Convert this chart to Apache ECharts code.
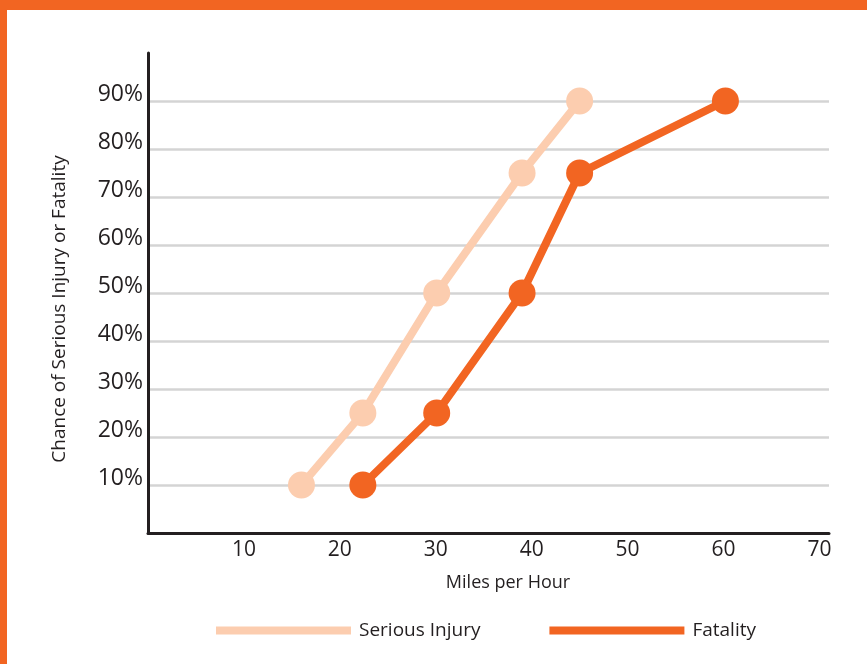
<!DOCTYPE html>
<html>
<head>
<meta charset="utf-8">
<script src="https://cdn.jsdelivr.net/npm/echarts@6/dist/echarts.min.js"></script>
<style>html,body{margin:0;padding:0;background:#fff;}#c{width:867px;height:664px;}</style>
</head>
<body>
<div id="c"></div>
<script>
const seriesNames = ['Serious Injury', 'Fatality'];
const injuryMph = [16, 22.4, 30.1, 39, 45];
const injuryPct = [10, 25, 50, 75, 90];
const fatalityMph = [22.4, 30.1, 39, 45, 60.2];
const fatalityPct = [10, 25, 50, 75, 90];
const xTitle = 'Miles per Hour';
const yTitle = 'Chance of Serious Injury or Fatality';

const FONT = '"Open Sans", "Noto Sans", sans-serif';
const LIGHT = '#FCCDAF';
const DARK = '#F26522';
const chart = echarts.init(document.getElementById('c'), null, {renderer: 'canvas'});

function pairs(xs, ys) { return xs.map((x, i) => [x, ys[i]]); }

chart.setOption({
  animation: false,
  backgroundColor: '#ffffff',
  grid: {left: 148, right: 38, top: 53, bottom: 131, containLabel: false},
  xAxis: {
    type: 'value', min: 0, max: 71, interval: 10,
    axisLine: {show: true, onZero: false, lineStyle: {color: '#231F20', width: 3}},
    axisTick: {show: false},
    splitLine: {show: false},
    axisLabel: {showMinLabel: false, showMaxLabel: false, color: '#231F20', fontFamily: FONT, fontSize: 21, margin: 7}
  },
  yAxis: {
    type: 'value', min: 0, max: 100, interval: 10,
    axisLine: {show: true, onZero: false, lineStyle: {color: '#231F20', width: 3}},
    axisTick: {show: false},
    splitLine: {show: true, showMinLine: false, showMaxLine: false, lineStyle: {color: '#D4D4D4', width: 2.5}},
    axisLabel: {
      showMinLabel: false, showMaxLabel: false, color: '#231F20', fontFamily: FONT, fontSize: 23, margin: 5,
      formatter: v => v + '%', verticalAlign: 'bottom', lineHeight: 13
    }
  },
  legend: {
    left: 216, top: 621, padding: 0, icon: 'rect', itemWidth: 135, itemHeight: 8, itemGap: 69,
    textStyle: {color: '#231F20', fontFamily: FONT, fontSize: 19, padding: [0, 0, 0, 3]},
    data: seriesNames
  },
  series: [
    {
      name: seriesNames[0], type: 'line', data: pairs(injuryMph, injuryPct),
      symbol: 'circle', symbolSize: 27, lineStyle: {color: LIGHT, width: 8},
      itemStyle: {color: LIGHT}, z: 2
    },
    {
      name: seriesNames[1], type: 'line', data: pairs(fatalityMph, fatalityPct),
      symbol: 'circle', symbolSize: 27, lineStyle: {color: DARK, width: 8},
      itemStyle: {color: DARK}, z: 3
    }
  ],
  graphic: [
    {type: 'rect', shape: {x: 0, y: 0, width: 867, height: 10}, style: {fill: DARK}, z: 100},
    {type: 'rect', shape: {x: 0, y: 0, width: 7, height: 664}, style: {fill: DARK}, z: 100},
    {type: 'text', x: 508, y: 583, style: {text: xTitle, fill: '#231F20', font: '18px ' + FONT, align: 'center', verticalAlign: 'middle'}},
    {type: 'text', x: 60, y: 309, rotation: Math.PI / 2, style: {text: yTitle, fill: '#231F20', font: '19px ' + FONT, align: 'center', verticalAlign: 'middle'}}
  ]
});
</script>
</body>
</html>
